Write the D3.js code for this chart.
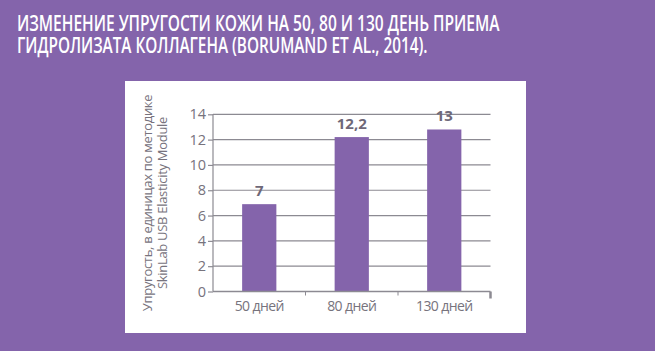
<!DOCTYPE html>
<html><head><meta charset="utf-8">
<script src="https://cdn.jsdelivr.net/npm/d3@7/dist/d3.min.js"></script>
<style>html,body{margin:0;padding:0;background:#8464ab;}svg{display:block;}</style>
</head><body>
<script>
const categories = ["50 дней", "80 дней", "130 дней"];
const values = [6.9, 12.2, 12.8];
const valueLabels = ["7", "12,2", "13"];
const yTicks = [0, 2, 4, 6, 8, 10, 12, 14];
const titleLines = ["ИЗМЕНЕНИЕ УПРУГОСТИ КОЖИ НА 50, 80 И 130 ДЕНЬ ПРИЕМА", "ГИДРОЛИЗАТА КОЛЛАГЕНА (BORUMAND ET AL., 2014)."];
const yTitleLines = ["Упругость, в единицах по методике", "SkinLab USB Elasticity Module"];

const W = 655, H = 351;
const svg = d3.select("body").append("svg").attr("width", W).attr("height", H);
svg.append("rect").attr("width", W).attr("height", H).attr("fill", "#8464ab");

// title (horizontally condensed via scale transform)
const tl = [{t: titleLines[0], y: 31, len: 483}, {t: titleLines[1], y: 52.5, len: 411}];
tl.forEach(d => {
  const gT = svg.append("g").attr("transform", `translate(17,${d.y})`);
  const t = gT.append("text").attr("x", 0).attr("y", 0)
    .attr("font-family", "Open Sans, sans-serif").attr("font-weight", 600)
    .attr("font-size", 22).attr("fill", "#ffffff").text(d.t);
  const natural = t.node().getComputedTextLength();
  gT.attr("transform", `translate(17,${d.y}) scale(${d.len / natural},1)`);
});

// panel
svg.append("rect").attr("x", 125).attr("y", 81).attr("width", 401).attr("height", 252).attr("fill", "#ffffff");

const x = d3.scaleBand().domain(categories).range([213, 490.5]).paddingInner(0.63).paddingOuter(0.315);
const xb = d3.scaleBand().domain(categories).range([213, 490.5]);
const y = d3.scaleLinear().domain([0, 14]).range([291.5, 114.3]);

const g = svg.append("g");
g.selectAll("line.grid").data(yTicks.filter(d => d > 0)).join("line")
  .attr("x1", 213).attr("x2", 490.5).attr("y1", d => y(d)).attr("y2", d => y(d))
  .attr("stroke", "#8c8a92").attr("stroke-width", 1.2);

g.selectAll("rect.bar").data(values).join("rect")
  .attr("x", (d, i) => x(categories[i])).attr("width", x.bandwidth())
  .attr("y", d => y(d)).attr("height", d => y(0) - y(d)).attr("fill", "#8464ab");

const yAxis = d3.axisLeft(y).tickValues(yTicks).tickSize(5).tickPadding(2).tickFormat(d3.format("d"));
const ya = svg.append("g").attr("transform", "translate(213,0)").call(yAxis);
ya.select(".domain").attr("stroke", "#8c8a92").attr("stroke-width", 1.2).attr("d", `M0,${y(14)}V${y(0)}`);
ya.selectAll(".tick line").attr("stroke", "#8c8a92").attr("stroke-width", 1.2);
ya.selectAll(".tick text").attr("font-family", "Open Sans, sans-serif").attr("font-size", 14.5).attr("fill", "#77737d");

svg.append("line").attr("x1", 213).attr("x2", 490.5).attr("y1", y(0)).attr("y2", y(0)).attr("stroke", "#8c8a92").attr("stroke-width", 1.5);
const bounds = categories.map(c => xb(c) + xb.bandwidth());
svg.selectAll("line.xt").data(bounds).join("line")
  .attr("x1", d => d).attr("x2", d => d).attr("y1", y(0)).attr("y2", (d, i) => i === bounds.length - 1 ? y(0) + 7 : y(0) + 4)
  .attr("stroke", "#8c8a92").attr("stroke-width", (d, i) => i === bounds.length - 1 ? 2.5 : 1);

svg.selectAll("text.xl").data(categories).join("text")
  .attr("x", d => xb(d) + xb.bandwidth() / 2).attr("y", 311)
  .attr("text-anchor", "middle").attr("font-family", "Open Sans, sans-serif").attr("font-size", 14)
  .attr("letter-spacing", -0.6).attr("fill", "#77737d").text(d => d);

svg.selectAll("text.vl").data(values).join("text")
  .attr("x", (d, i) => x(categories[i]) + x.bandwidth() / 2).attr("y", d => y(d) - 8)
  .attr("text-anchor", "middle").attr("font-family", "Open Sans, sans-serif").attr("font-weight", 700)
  .attr("font-size", 15).attr("fill", "#6e6878").text((d, i) => valueLabels[i]);

const yt = svg.append("g").attr("transform", "translate(0,203) rotate(-90)");
yt.selectAll("text").data(yTitleLines).join("text")
  .attr("x", 0).attr("y", (d, i) => 152 + i * 15)
  .attr("text-anchor", "middle").attr("font-family", "Open Sans, sans-serif").attr("font-size", 13)
  .attr("letter-spacing", -0.3).attr("fill", "#77737d").text(d => d);
</script>
</body></html>
